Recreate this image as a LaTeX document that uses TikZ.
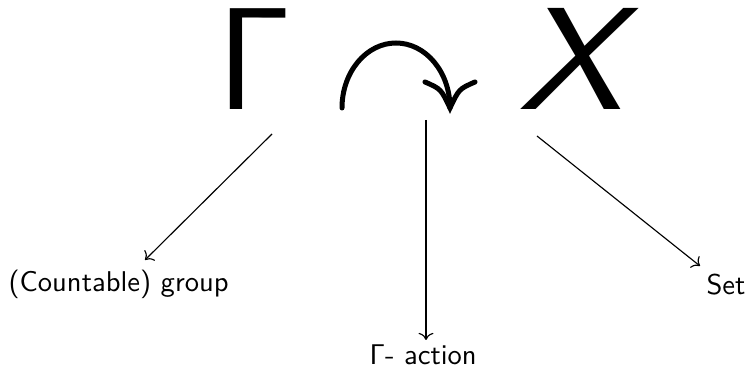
\documentclass[tikz,border=0pt]{standalone}
\usepackage{graphicx}
\usetikzlibrary{arrows.meta}
\begin{document}
\begin{tikzpicture}[x=0.35pt,y=-0.35pt,
  big/.style={inner sep=0pt,anchor=base west,text height=36pt,text depth=0pt,
    font=\fontsize{51}{60}\selectfont\sffamily},
  lbl/.style={inner sep=0pt,anchor=base west,font=\sffamily},
  pointer/.style={->,line width=0.4pt},
  action/.style={line width=1.75pt,line cap=round}]
\useasboundingbox (0,0) rectangle (748,374);
% group and set symbols
\node[big] (gamma) at (217,110) {Γ};
\node[big] (xset) at (518,110) {\scalebox{1.15}[1]{\itshape X}};
% the action arrow
\coordinate (arcL) at (342,108);
\coordinate (tip) at (450,108);
\draw[action] (arcL) arc[start angle=180,end angle=360,x radius=54,y radius=65];
\draw[action] (425,82) .. controls (441,89) .. (tip) .. controls (459,89) .. (475,82);
% labels
\node[lbl] (lgroup) at (8,292) {(Countable) group};
\node[lbl] (laction) at (369,365) {Γ- action};
\node[lbl] (lset) at (706,295) {Set};
% pointers
\coordinate (s1) at (272,134);
\coordinate (t1) at (145,260);
\coordinate (s2) at (426,120);
\coordinate (t2) at (426,340);
\coordinate (s3) at (537,136);
\coordinate (t3) at (700,266);
\draw[pointer] (s1) -- (t1);
\draw[pointer] (s2) -- (t2);
\draw[pointer] (s3) -- (t3);
\end{tikzpicture}
\end{document}
